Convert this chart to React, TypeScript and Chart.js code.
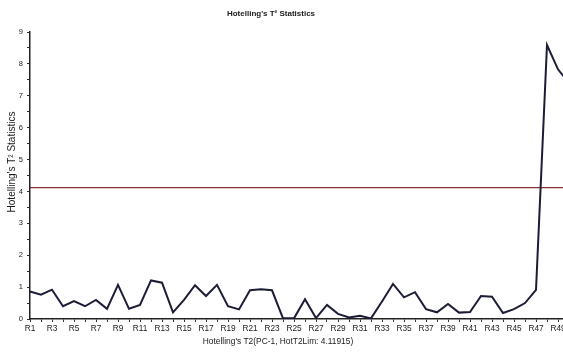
import React, { useEffect, useRef } from "react";
import { Chart, registerables } from "chart.js";

Chart.register(...registerables);

// Observation labels R1..R50
const observations: string[] = [
  "R1", "R2", "R3", "R4", "R5", "R6", "R7", "R8", "R9", "R10",
  "R11", "R12", "R13", "R14", "R15", "R16", "R17", "R18", "R19", "R20",
  "R21", "R22", "R23", "R24", "R25", "R26", "R27", "R28", "R29", "R30",
  "R31", "R32", "R33", "R34", "R35", "R36", "R37", "R38", "R39", "R40",
  "R41", "R42", "R43", "R44", "R45", "R46", "R47", "R48", "R49", "R50",
];

// Hotelling's T2 for each observation (PC-1)
const t2Values: number[] = [
  0.86, 0.76, 0.92, 0.4, 0.56, 0.4, 0.6, 0.32, 1.07, 0.32,
  0.44, 1.21, 1.14, 0.21, 0.6, 1.06, 0.72, 1.07, 0.4, 0.3,
  0.9, 0.93, 0.9, 0.02, 0.02, 0.62, 0.03, 0.44, 0.16, 0.05,
  0.1, 0.02, 0.55, 1.1, 0.68, 0.84, 0.31, 0.21, 0.47, 0.2,
  0.22, 0.72, 0.7, 0.19, 0.31, 0.5, 0.91, 8.59, 7.83, 7.4,
];

// Critical limit
const hotT2Limit = 4.11915;

const yTicksMax = 9;

const titleText = "Hotelling's T\u00B2 Statistics";
const yTitleText = "Hotelling's T\u00B2 Statistics";
const xTitleText = `Hotelling's T2(PC-1, HotT2Lim: ${hotT2Limit})`;

const FONT = "'Liberation Sans', Arial, sans-serif";

const captionsPlugin = {
  id: "captions",
  afterDraw(chart: Chart) {
    const ctx = chart.ctx;
    ctx.save();
    ctx.fillStyle = "#1a1a1a";
    ctx.textAlign = "center";
    ctx.textBaseline = "middle";

    ctx.font = `bold 8px ${FONT}`;
    ctx.fillText(titleText, 271, 14);

    ctx.font = `8.4px ${FONT}`;
    ctx.fillText(xTitleText, 278, 342);

    ctx.translate(12, 162);
    ctx.rotate(-Math.PI / 2);
    ctx.font = `10px ${FONT}`;
    ctx.fillText(yTitleText, 0, 0);
    ctx.restore();
  },
};

export default function App() {
  const canvasRef = useRef<HTMLCanvasElement | null>(null);

  useEffect(() => {
    if (!canvasRef.current) return;
    const chart = new Chart(canvasRef.current, {
      type: "line",
      data: {
        labels: observations,
        datasets: [
          {
            label: "T2",
            data: t2Values,
            borderColor: "#1c1c36",
            borderWidth: 2,
            pointRadius: 0,
            tension: 0,
            fill: false,
          },
          {
            label: "Limit",
            data: observations.map(() => hotT2Limit),
            borderColor: "#8a3030",
            borderWidth: 1.2,
            pointRadius: 0,
            tension: 0,
            fill: false,
          },
        ],
      },
      options: {
        responsive: false,
        animation: false,
        devicePixelRatio: 1,
        layout: { padding: { top: 32, right: 3, left: 0, bottom: 0 } },
        plugins: {
          legend: { display: false },
          tooltip: { enabled: false },
          title: { display: false },
        },
        scales: {
          x: {
            type: "category",
            offset: false,
            grid: {
              drawOnChartArea: false,
              drawTicks: true,
              tickLength: 3,
              color: "#333",
            },
            border: { color: "#222", width: 1.5 },
            ticks: {
              autoSkip: false,
              maxRotation: 0,
              minRotation: 0,
              padding: 2,
              color: "#1a1a1a",
              font: { family: FONT, size: 8.3 },
              callback: (_v: any, i: number) => (i % 2 === 0 ? observations[i] : ""),
            },
            afterFit: (s: any) => {
              s.height = 33;
            },
          },
          y: {
            min: 0,
            max: yTicksMax,
            grid: {
              drawOnChartArea: false,
              drawTicks: true,
              tickLength: 3,
              color: "#333",
            },
            border: { color: "#222", width: 1.5 },
            ticks: {
              stepSize: 0.5,
              autoSkip: false,
              padding: 4,
              color: "#1a1a1a",
              font: { family: FONT, size: 7.5 },
              callback: (v: any) => (Number.isInteger(v) ? String(v) : ""),
            },
            afterFit: (s: any) => {
              s.width = 30;
            },
          },
        },
      },
      plugins: [captionsPlugin],
    });
    return () => chart.destroy();
  }, []);

  return (
    <div
      style={{
        position: "fixed",
        left: 0,
        top: 0,
        width: 563,
        height: 352,
        overflow: "hidden",
        background: "#fff",
      }}
    >
      <canvas ref={canvasRef} width={572} height={352} style={{ display: "block" }} />
    </div>
  );
}
